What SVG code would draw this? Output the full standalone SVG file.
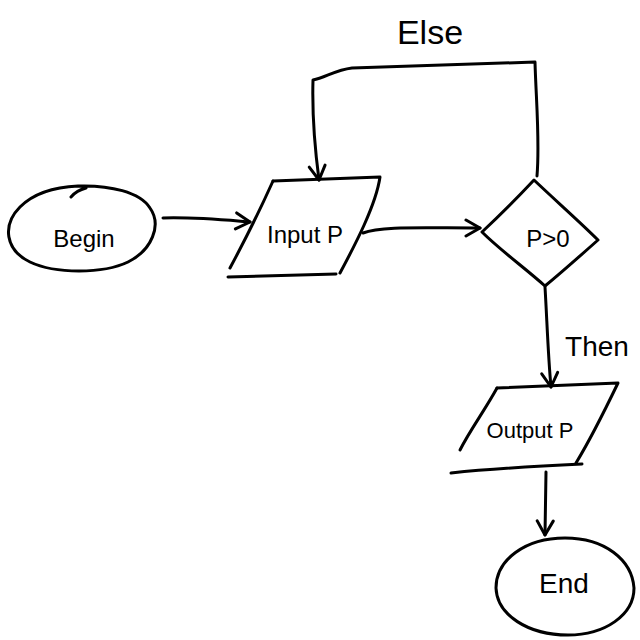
<svg xmlns="http://www.w3.org/2000/svg" width="640" height="640" viewBox="0 0 640 640">
<style>
.s{fill:none;stroke:#000;stroke-width:3;stroke-linecap:round;stroke-linejoin:round}
.t{font-family:"Liberation Sans Narrow","Liberation Sans","DejaVu Sans",sans-serif;fill:#000;text-anchor:middle}
</style>
<defs>
<marker id="ah" viewBox="0 0 20 20" refX="18" refY="10" markerWidth="20" markerHeight="20" markerUnits="userSpaceOnUse" orient="auto">
<path d="M4 2 L18 10 L4 18" fill="none" stroke="#000" stroke-width="3" stroke-linecap="round" stroke-linejoin="round"/>
</marker>
</defs>
<rect width="640" height="640" fill="#fff"/>
<g id="begin">
<path class="s" d="M71 197 C76 191 82 189 86 188 C84 186 80 186 78 186 C110 185 140 192 150 208 C162 225 152 250 128 262 C103 274 55 274 30 262 C5 250 2 225 20 207 C35 192 55 187 78 186"/>
<text class="t" x="84" y="247" font-size="24">Begin</text>
</g>
<g id="input">
<path class="s" d="M273 181 L380 177 C376 205 355 245 340 273"/>
<path class="s" d="M273 181 C260 210 245 240 230 268"/>
<path class="s" d="M228 277 L336 274"/>
<text class="t" x="305" y="243" font-size="24">Input P</text>
</g>
<g id="decision">
<path class="s" d="M482 232 C500 215 520 195 534 180 C555 200 580 222 598 240 C580 256 562 272 545 286 C525 268 500 250 482 232 Z"/>
<text class="t" x="548" y="247" font-size="24">P&gt;0</text>
</g>
<g id="output">
<path class="s" d="M497 388 L618 383 C605 410 590 440 576 463"/>
<path class="s" d="M497 388 C485 410 470 430 460 450"/>
<path class="s" d="M451 473 C490 469 540 466 582 464"/>
<text class="t" x="530" y="438" font-size="22">Output P</text>
</g>
<g id="end">
<path class="s" d="M565 538 C605 538 632 560 634 588 C634 615 605 635 568 635 C528 635 497 615 496 588 C496 560 525 538 565 538 Z"/>
<text class="t" x="564" y="593" font-size="28">End</text>
</g>
<g id="connectors">
<path class="s" d="M163 218 C195 217 225 220 250 222" marker-end="url(#ah)"/>
<path class="s" d="M363 233 C380 226 420 228 480 228" marker-end="url(#ah)"/>
<path class="s" d="M537 176 C540 140 536 100 535 62 L352 68 C335 70 325 78 313 80 C312 115 315 150 319 180" marker-end="url(#ah)"/>
<path class="s" d="M545 287 C547 320 548 355 551 387" marker-end="url(#ah)"/>
<path class="s" d="M546 472 L545 535" marker-end="url(#ah)"/>
</g>
<g id="labels">
<text class="t" x="430" y="44" font-size="34">Else</text>
<text class="t" x="597" y="356" font-size="28">Then</text>
</g>
</svg>
